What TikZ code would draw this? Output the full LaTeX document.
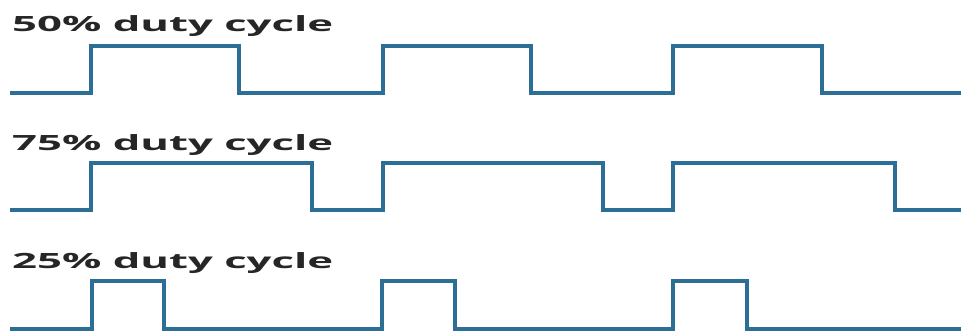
\documentclass[tikz,border=0pt]{standalone}
\usepackage{fontspec}
\setmainfont{Open Sans}
\definecolor{wave}{RGB}{44,110,150}
\definecolor{lbl}{RGB}{38,38,38}
\begin{document}
\begin{tikzpicture}[x=1pt,y=1pt,
  wavestyle/.style={draw=wave,line width=3.6pt,line join=miter},
  lblstyle/.style={anchor=base west,inner sep=0pt,text=lbl,font=\fontsize{21}{21}\selectfont\bfseries}]
\useasboundingbox (0,0) rectangle (961,334);
% labels
\node[lblstyle] (l50) at (12,302) {\scalebox{2.08}[1]{50\% duty cycle}};
\node[lblstyle] (l75) at (12,183) {\scalebox{2.08}[1]{75\% duty cycle}};
\node[lblstyle] (l25) at (12,65) {\scalebox{2.08}[1]{25\% duty cycle}};
% 50%
\draw[wavestyle] (10,241) -- (91,241) -- (91,288) -- (239,288) -- (239,241)
  -- (383,241) -- (383,288) -- (531,288) -- (531,241)
  -- (673,241) -- (673,288) -- (822,288) -- (822,241) -- (965,241);
% 75%
\draw[wavestyle] (10,124) -- (91,124) -- (91,171) -- (312,171) -- (312,124)
  -- (383,124) -- (383,171) -- (603,171) -- (603,124)
  -- (673,124) -- (673,171) -- (895,171) -- (895,124) -- (965,124);
% 25%
\draw[wavestyle] (10,5) -- (92,5) -- (92,53) -- (164,53) -- (164,5)
  -- (382,5) -- (382,53) -- (455,53) -- (455,5)
  -- (673,5) -- (673,53) -- (747,53) -- (747,5) -- (965,5);
\end{tikzpicture}
\end{document}
